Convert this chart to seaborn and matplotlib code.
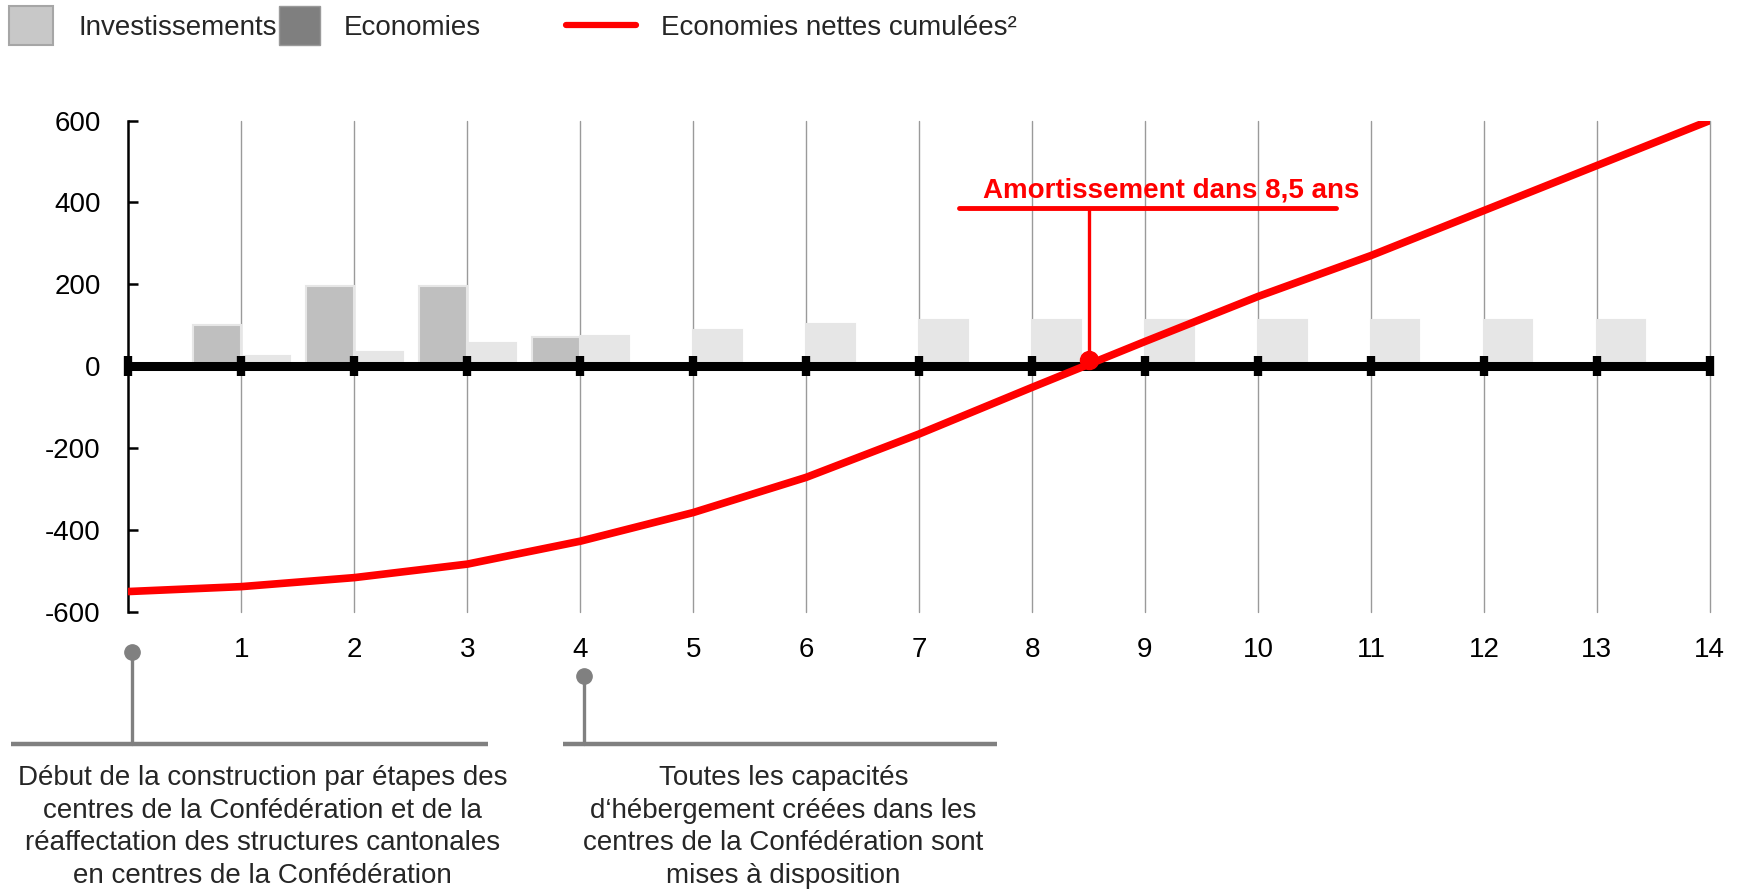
import numpy as np
import pandas as pd
import matplotlib
matplotlib.use("Agg")
import matplotlib.pyplot as plt
import seaborn as sns
from matplotlib.patches import Rectangle
from matplotlib.lines import Line2D

# ------------------------------------------------------------------
# Data (in mio CHF)
# ------------------------------------------------------------------
years = list(range(0, 15))
investments = [0, 100, 195, 195, 70, 0, 0, 0, 0, 0, 0, 0, 0, 0, 0]
savings = [3, 25, 35, 57, 74, 87, 104, 112, 112, 112, 112, 112, 112, 112, 0]
net_savings = [-551, -539, -517, -484, -428, -358, -272, -166, -52, 60, 170, 270, 380, 490, 600]
x_labels = [str(y) for y in range(1, 15)]
y_ticks = [-600, -400, -200, 0, 200, 400, 600]

payback_year = 8.5
payback_label = "Amortissement dans 8,5 ans"

milestone_years = [0, 4]
milestone_texts = [
    "Début de la construction par étapes des\ncentres de la Confédération et de la\n"
    "réaffectation des structures cantonales\nen centres de la Confédération",
    "Toutes les capacités\nd\u2018hébergement créées dans les\n"
    "centres de la Confédération sont\nmises à disposition",
]

legend_labels = ["Investissements", "Economies", "Economies nettes cumulées\u00b2"]

RED = "#ff0000"
GREY = "#808080"

sns.set_theme(style="white")
plt.rcParams.update({
    "font.family": ["Liberation Sans", "DejaVu Sans"],
    "font.size": 20,
    "axes.unicode_minus": False,
})

df = pd.DataFrame({
    "year": years * 2,
    "kind": ["Investissements"] * len(years) + ["Economies"] * len(years),
    "value": investments + savings,
})

fig = plt.figure(figsize=(17.5, 8.91), dpi=100)
ax = fig.add_axes([0.0734, 0.3136, 0.9036, 0.5511])

# bars: investments left of each year, savings right of it
sns.barplot(data=df, x="year", y="value", hue="kind", native_scale=True,
            hue_order=["Investissements", "Economies"],
            palette={"Investissements": "#bfbfbf", "Economies": "#e6e6e6"},
            width=0.86, dodge=True, legend=False, ax=ax,
            edgecolor="#e6e6e6", linewidth=1.5, zorder=2)

# zero line with its year markers
ax.axhline(0, color="black", lw=6.5, zorder=3)
ax.plot(years, np.zeros(len(years)), ls="none", marker="|", ms=15, mew=6,
        color="black", zorder=3, clip_on=False)

# cumulative net savings
sns.lineplot(x=years, y=net_savings, color=RED, lw=5.5, ax=ax, zorder=5)

# payback annotation
ax.plot([payback_year, payback_year], [14, 387], color=RED, lw=2.4, zorder=6)
ax.plot([payback_year], [14], marker="o", ms=13, color=RED, zorder=6)
ax.plot([7.35, 10.69], [387, 387], color=RED, lw=3.5, zorder=6)
ax.text(9.23, 430, payback_label, color=RED, fontweight="bold",
        ha="center", va="center", fontsize=20, zorder=6)

ax.set_xlim(0, 14)
ax.set_ylim(-600, 600)
ax.set_xticks(range(1, 15))
ax.set_xticklabels(x_labels)
ax.set_yticks(y_ticks)
ax.set_xlabel("")
ax.set_ylabel("")
ax.grid(axis="x", color="#9a9a9a", lw=1)
ax.grid(axis="y", visible=False)
for gl in ax.get_xgridlines():
    gl.set_clip_on(False)
ax.set_axisbelow(True)
ax.tick_params(axis="x", length=0, pad=18, labelsize=20, colors="black")
ax.tick_params(axis="y", direction="in", length=7, width=1.8, pad=20,
               labelsize=20, colors="black", left=True)
for side in ["top", "right", "bottom"]:
    ax.spines[side].set_visible(False)
ax.spines["left"].set_color("black")
ax.spines["left"].set_linewidth(1.8)

# milestones below the axis
trans = ax.get_xaxis_transform()
dot_y = [-0.082, -0.132]
bar_ranges = [(-1.04, 3.18), (3.85, 7.69)]
text_x = [1.19, 5.8]
for yr, dy, (x0, x1), tx, txt in zip(milestone_years, dot_y, bar_ranges, text_x, milestone_texts):
    ax.plot([yr + 0.03, yr + 0.03], [dy, -0.27], transform=trans, color=GREY,
            lw=2.4, clip_on=False)
    ax.plot([yr + 0.03], [dy], transform=trans, marker="o", ms=11, color=GREY,
            clip_on=False)
    ax.plot([x0, x1], [-0.27, -0.27], transform=trans, color=GREY, lw=3.2,
            clip_on=False, solid_capstyle="butt")
    ax.text(tx, -0.313, txt, transform=trans, ha="center", va="top",
            fontsize=20, linespacing=1.33, multialignment="center")

# legend, drawn in figure coordinates
fig.add_artist(Rectangle((0.0051, 0.950), 0.0249, 0.0437, transform=fig.transFigure,
                         facecolor="#c8c8c8", edgecolor="#a6a6a6", lw=1.5))
fig.text(0.0446, 0.969, legend_labels[0], va="center", fontsize=20)
fig.add_artist(Rectangle((0.1594, 0.950), 0.0236, 0.0437, transform=fig.transFigure,
                         facecolor="#7f7f7f", edgecolor="#9a9a9a", lw=1.0))
fig.text(0.1964, 0.969, legend_labels[1], va="center", fontsize=20)
fig.add_artist(Line2D([0.3234, 0.3635], [0.9724, 0.9724], transform=fig.transFigure,
                      color=RED, lw=4.5))
fig.text(0.3775, 0.969, legend_labels[2], va="center", fontsize=20)

fig.savefig("out.png", dpi=100)
